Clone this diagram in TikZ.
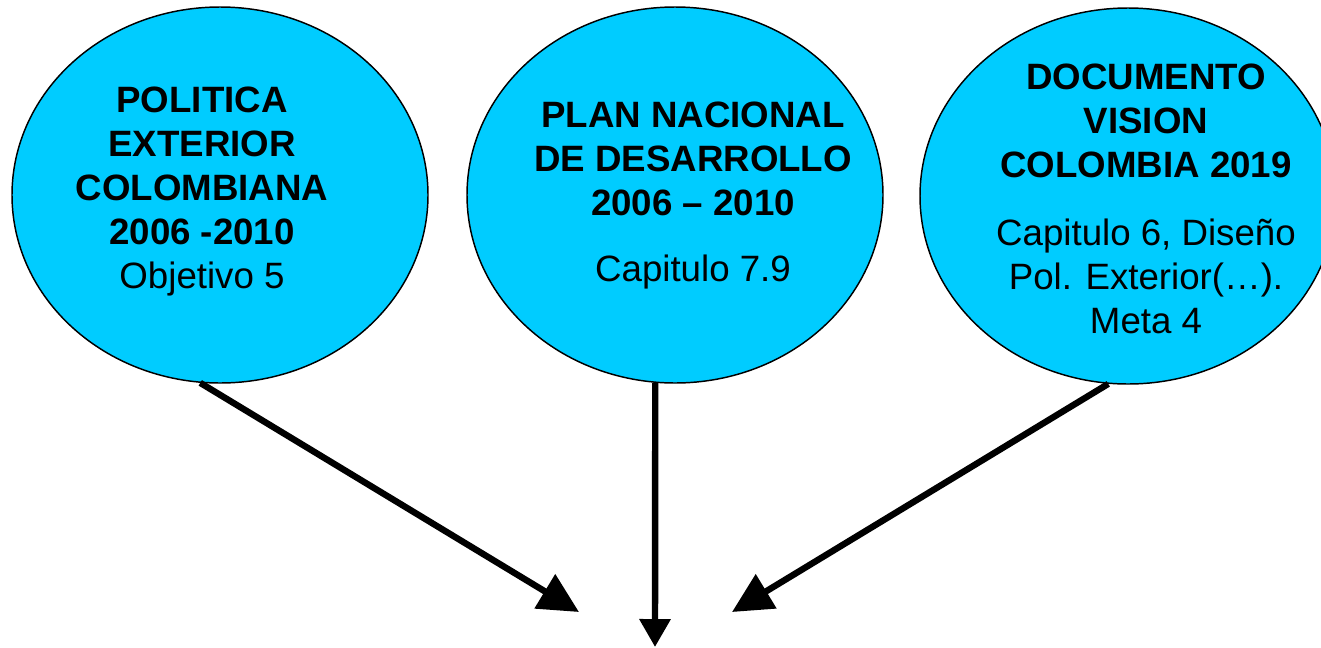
\documentclass[tikz,border=0pt]{standalone}
\usepackage{fontspec}
\setmainfont{Liberation Sans}
\usetikzlibrary{shapes.geometric,arrows.meta}
\definecolor{celeste}{RGB}{0,204,255}

\tikzset{
  globo/.style={ellipse, draw, fill=celeste, line width=1.1pt,
    minimum width=312pt, minimum height=282pt, inner sep=0pt},
  texto/.style={anchor=north, align=center, inner sep=0pt,
    font=\fontsize{27.5}{33}\selectfont},
  flecha/.style={line width=4.8pt, -{Triangle[length=30pt,width=29pt]}},
  flechacorta/.style={line width=4.8pt, -{Triangle[length=21pt,width=22.5pt]}}
}

\begin{document}
\begin{tikzpicture}[x=0.75pt, y=-0.75pt]
  \useasboundingbox[fill=white] (0,0) rectangle (1321,647);
  \clip (0,0) rectangle (1321,647);

  % Globos
  \node[globo] (pol) at (220,195) {};
  \node[globo] (plan) at (675,195) {};
  \node[globo] (doc) at (1128,196) {};

  % Textos
  \node[texto] (polTxt) at (202,86.5)
    {\textbf{POLITICA}\\ \textbf{EXTERIOR}\\ \textbf{COLOMBIANA}\\
     \textbf{2006 -2010}\\ Objetivo 5};
  \node[texto] (planTxt) at (693,101.5)
    {\textbf{PLAN NACIONAL}\\ \textbf{DE DESARROLLO}\\
     \textbf{2006 -- 2010}\\[16.5pt] Capitulo 7.9};
  \node[texto] (docTxt) at (1146,63.5)
    {\textbf{DOCUMENTO}\\ \textbf{VISION}\\ \textbf{COLOMBIA 2019}\\[18pt]
     Capitulo 6, Diseño\\ Pol. Exterior(…).\\ Meta 4};

  % Flechas
  \coordinate (finIzq) at (579,612);
  \coordinate (finCen) at (655,647);
  \coordinate (finDer) at (732,612);

  \draw[flecha] (pol.264) -- (finIzq);
  \draw[flechacorta] (plan.264) -- (finCen);
  \draw[flecha] (doc.264) -- (finDer);

\end{tikzpicture}
\end{document}
